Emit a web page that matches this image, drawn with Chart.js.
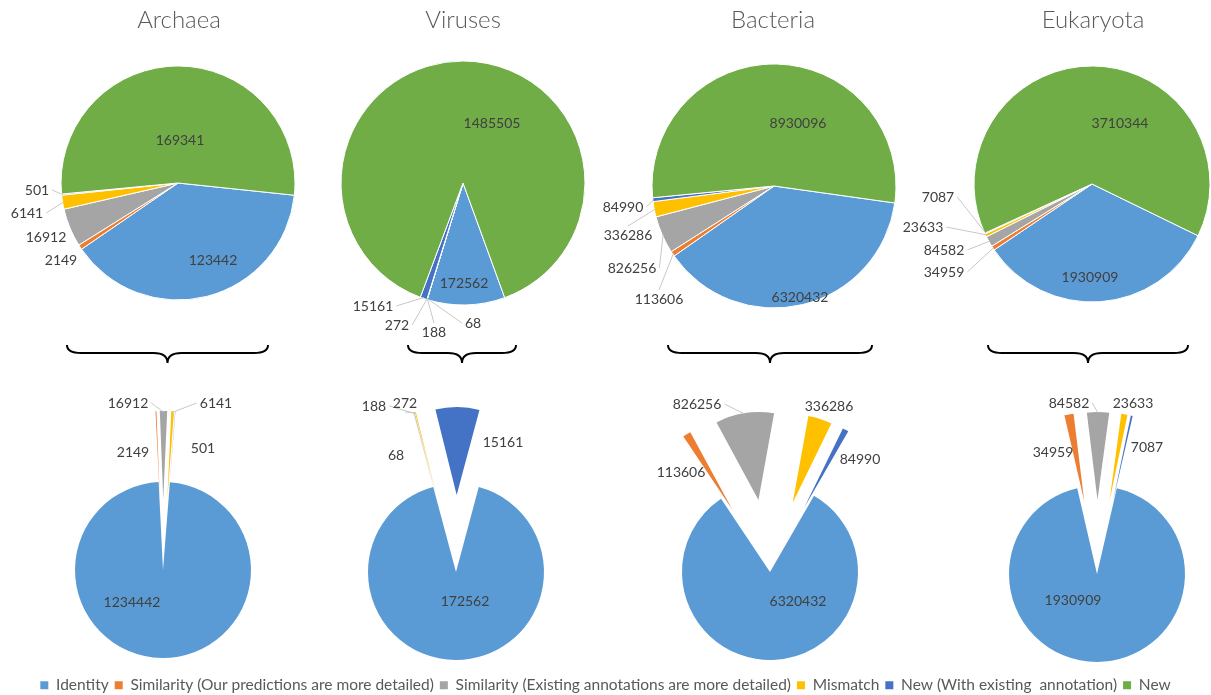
<!DOCTYPE html>
<html><head><meta charset="utf-8">
<script src="https://cdn.jsdelivr.net/npm/chart.js@4.4.0/dist/chart.umd.min.js"></script>
<style>
html,body{margin:0;padding:0;background:#fff;width:1211px;height:695px;overflow:hidden}
canvas{position:absolute;left:0;top:0}
</style></head><body>
<script>
// ---------- data ----------
const categories = ['Identity','Similarity (Our predictions are more detailed)','Similarity (Existing annotations are more detailed)','Mismatch','New (With existing  annotation)','New'];
const domains = ['Archaea','Viruses','Bacteria','Eukaryota'];
const archaeaValues   = [123442, 2149, 16912, 6141, 501, 169341];
const virusesValues   = [172562, 68, 188, 272, 15161, 1485505];
const bacteriaValues  = [6320432, 113606, 826256, 336286, 84990, 8930096];
const eukaryotaValues = [1930909, 34959, 84582, 23633, 7087, 3710344];
// detail pies (Identity + the four small categories); Archaea detail uses the identity value printed there
const archaeaDetail   = [1234442, 2149, 16912, 6141, 501];
const virusesDetail   = [172562, 68, 188, 272, 15161];
const bacteriaDetail  = [6320432, 113606, 826256, 336286, 84990];
const eukaryotaDetail = [1930909, 34959, 84582, 23633, 7087];
const colors = ['#5B9BD5','#ED7D31','#A5A5A5','#FFC000','#4472C4','#70AD47'];

// ---------- layout ----------
const W = 1211, H = 695;
Chart.defaults.font.family = 'Lato, "Liberation Sans", sans-serif';

function makeCanvas(h){
  const c = document.createElement('canvas');
  const hh = h || H;
  c.width = W; c.height = hh; c.style.width = W+'px'; c.style.height = hh+'px';
  document.body.appendChild(c); return c;
}

const explodePlugin = {
  id:'explode',
  beforeDatasetDraw(chart, args, opts){
    const dist = opts.dist || []; const ctx = chart.ctx;
    args.meta.data.forEach((arc,i)=>{
      const d = dist[i] || 0; const mid = (arc.startAngle + arc.endAngle)/2;
      ctx.save(); ctx.translate(Math.cos(mid)*d, Math.sin(mid)*d); arc.draw(ctx); ctx.restore();
    });
    return false;
  }
};

const labelPlugin = {
  id:'sliceLabels',
  afterDatasetsDraw(chart, args, opts){
    const items = opts.items; if(!items) return;
    const ctx = chart.ctx; const meta = chart.getDatasetMeta(0);
    const data = chart.data.datasets[0].data;
    const dist = (chart.options.plugins.explode && chart.options.plugins.explode.dist) || [];
    ctx.save();
    ctx.font = '14px Lato, "Liberation Sans", sans-serif';
    ctx.textAlign = 'center'; ctx.textBaseline = 'middle';
    items.forEach((it,i)=>{
      if(!it) return;
      const arc = meta.data[i];
      const x = arc.x + it[0], y = arc.y + it[1];
      const txt = String(data[i]);
      if(it[2]){
        const mid = (arc.startAngle + arc.endAngle)/2;
        const rr = arc.outerRadius + (dist[i]||0) - 1;
        const tx = arc.x + Math.cos(mid)*rr, ty = arc.y + Math.sin(mid)*rr;
        const w = ctx.measureText(txt).width/2 + 3;
        let sx, sy;
        if (tx > x + w) { sx = x + w; sy = y; }
        else if (tx < x - w) { sx = x - w; sy = y; }
        else { sx = x; sy = ty < y ? y - 9 : y + 9; }
        ctx.strokeStyle = '#C8C8C8'; ctx.lineWidth = 1;
        ctx.beginPath(); ctx.moveTo(sx, sy); ctx.lineTo(tx, ty); ctx.stroke();
      }
      ctx.fillStyle = '#404040'; ctx.fillText(txt, x, y);
    });
    ctx.restore();
  }
};

const decorPlugin = {
  id:'decor',
  afterDraw(chart, args, opts){
    const ctx = chart.ctx;
    if (opts.title){
      ctx.save();
      ctx.font = '300 24px Lato, "Liberation Sans", sans-serif';
      ctx.fillStyle = '#595959'; ctx.textAlign = 'center'; ctx.textBaseline = 'alphabetic';
      ctx.fillText(opts.title.text, opts.title.x, opts.title.y);
      ctx.restore();
    }
    if (opts.brace){
      const b = opts.brace, x0 = b.cx - b.hw, x1 = b.cx + b.hw, q = 14;
      ctx.save(); ctx.strokeStyle = '#000'; ctx.lineWidth = 2; ctx.beginPath();
      ctx.moveTo(x0, b.yTop);
      ctx.quadraticCurveTo(x0, b.yMid, x0 + q, b.yMid);
      ctx.lineTo(b.cx - q, b.yMid);
      ctx.quadraticCurveTo(b.cx, b.yMid, b.cx, b.yBot);
      ctx.quadraticCurveTo(b.cx, b.yMid, b.cx + q, b.yMid);
      ctx.lineTo(x1 - q, b.yMid);
      ctx.quadraticCurveTo(x1, b.yMid, x1, b.yTop);
      ctx.stroke(); ctx.restore();
    }
  }
};

function pie(values, cfg){
  const s = 4;
  return new Chart(makeCanvas(), {
    type:'pie',
    data:{ labels: categories.slice(0, values.length),
      datasets:[{ data: values, backgroundColor: colors.slice(0, values.length),
        borderColor:'#ffffff', borderWidth: cfg.bw, rotation: cfg.rot, radius: cfg.r }]},
    options:{ responsive:false, animation:false, events:[], rotation: cfg.rot, radius: cfg.r,
      layout:{ padding:{ left: cfg.cx - s, right: W - cfg.cx - s, top: cfg.cy - s, bottom: H - cfg.cy - s } },
      plugins:{ legend:{display:false}, tooltip:{enabled:false},
        explode:{ dist: cfg.dist || [] }, sliceLabels:{ items: cfg.labels },
        decor:{ title: cfg.title || null, brace: cfg.brace || null } } },
    plugins:[explodePlugin, labelPlugin, decorPlugin]
  });
}

const titleY = 28;
const braceY = { yTop: 345, yMid: 353, yBot: 363 };

// ---- overview pies ----
pie(archaeaValues, { cx:178, cy:183, r:117, rot:96, bw:1,
  title:{ text: domains[0], x:179, y:titleY },
  labels:[[35,77,0],[-117,77,0],[-132,54,0],[-151,30,1],[-141,7,1],[2,-43,0]] });
pie(virusesValues, { cx:463, cy:183, r:122, rot:160, bw:1,
  title:{ text: domains[1], x:463, y:titleY },
  labels:[[1,100,0],[10,140,1],[-29,149,1],[-66,142,1],[-90,123,1],[29,-60,0]] });
pie(bacteriaValues, { cx:774, cy:186, r:122, rot:98, bw:1,
  title:{ text: domains[2], x:773, y:titleY },
  labels:[[26,111,0],[-115,113,1],[-142,82,1],[-146,49,1],[-151,21,1],[24,-63,0]] });
pie(eukaryotaValues, { cx:1092, cy:184, r:118, rot:116, bw:1,
  title:{ text: domains[3], x:1093, y:titleY },
  labels:[[-2,93,0],[-148,88,1],[-148,66,1],[-169,43,1],[-154,13,1],[28,-61,0]] });

// ---- detail pies (small categories exploded) ----
pie(archaeaDetail, { cx:163, cy:570, r:88, rot:4.5, bw:0, dist:[0,71,71,71,71],
  brace:Object.assign({ cx:167.5, hw:100.5 }, braceY),
  labels:[[-31,32,0],[-30,-118,0],[-35,-167,1],[53,-167,1],[40,-122,0]] });
pie(virusesDetail, { cx:456, cy:572, r:88, rot:15, bw:0, dist:[0,77,77,77,77],
  brace:Object.assign({ cx:462, hw:54 }, braceY),
  labels:[[9,29,0],[-60,-117,0],[-82,-166,1],[-51,-169,1],[47,-130,0]] });
pie(bacteriaDetail, { cx:770, cy:572, r:88, rot:30, bw:0, dist:[0,73,73,73,73],
  brace:Object.assign({ cx:770, hw:102 }, braceY),
  labels:[[28,29,0],[-89,-100,0],[-73,-168,1],[59,-166,0],[90,-113,0]] });
pie(eukaryotaDetail, { cx:1097, cy:574, r:88, rot:13, bw:0, dist:[0,74,74,74,74],
  brace:Object.assign({ cx:1088, hw:100 }, braceY),
  labels:[[-24,26,0],[-44,-122,0],[-28,-171,1],[36,-171,0],[50,-127,0]] });

// ---- shared legend ----
new Chart(makeCanvas(703), {
  type:'pie',
  data:{ labels: categories, datasets:[{ data: bacteriaValues, backgroundColor: colors, borderWidth:0, radius:0 }]},
  options:{ responsive:false, animation:false, events:[], radius:0,
    layout:{ padding:{ bottom:0 } },
    plugins:{ tooltip:{enabled:false},
      legend:{ position:'bottom',
        labels:{ font:{ family:'Lato, "Liberation Sans", sans-serif', size:15.5 }, color:'#595959', boxWidth:8, boxHeight:8, padding:6 } } } }
});
</script>
</body></html>
